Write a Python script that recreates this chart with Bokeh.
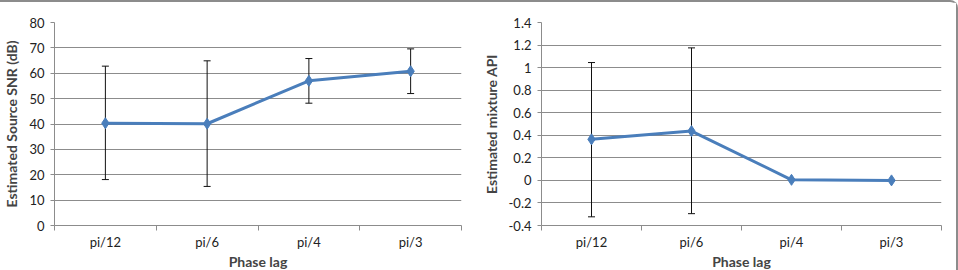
from bokeh.plotting import figure
from bokeh.layouts import row
from bokeh.models import Range1d, FixedTicker, Whisker, ColumnDataSource
from bokeh.embed import file_html
from bokeh.resources import INLINE

# Phase lag categories shared by both panels
phases = ["pi/12", "pi/6", "pi/4", "pi/3"]

# Left panel: estimated source SNR (dB) with error bars
snr_mean = [40.3, 40.1, 57.0, 60.8]
snr_upper = [62.8, 64.9, 65.8, 69.6]
snr_lower = [18.1, 15.4, 48.2, 52.0]
snr_ticks = [0, 10, 20, 30, 40, 50, 60, 70, 80]
snr_tick_labels = ["0", "10", "20", "30", "40", "50", "60", "70", "80"]

# Right panel: estimated mixture API with error bars
api_mean = [0.364, 0.437, 0.005, 0.0]
api_upper = [1.045, 1.175, 0.005, 0.0]
api_lower = [-0.323, -0.295, 0.005, 0.0]
api_ticks = [-0.4, -0.2, 0.0, 0.2, 0.4, 0.6, 0.8, 1.0, 1.2, 1.4]
api_tick_labels = ["-0.4", "-0.2", "0", "0.2", "0.4", "0.6", "0.8", "1", "1.2", "1.4"]

LINE_BLUE = "#4a7ebb"
GRID_GRAY = "#8c8c8c"
FONT = "Lato"


def panel(mean, upper, lower, ticks, tick_labels, y_title, borders, styles):
    x = [i + 0.5 for i in range(len(phases))]
    src = ColumnDataSource(dict(x=x, y=mean, upper=upper, lower=lower))
    left, right, top, bottom = borders
    p = figure(width=479, height=270, output_backend="svg", toolbar_location=None,
               x_range=Range1d(0, len(phases)),
               y_range=Range1d(ticks[0], ticks[-1]),
               min_border_left=left, min_border_right=right,
               min_border_top=top, min_border_bottom=bottom,
               styles=styles)
    p.outline_line_color = None
    p.background_fill_color = "white"
    p.border_fill_color = "white"

    # x axis: labels at category centres, tick marks at category boundaries
    xa = p.xaxis[0]
    xa.ticker = FixedTicker(ticks=x, minor_ticks=list(range(len(phases) + 1)))
    xa.major_label_overrides = {xi: lab for xi, lab in zip(x, phases)}
    xa.major_tick_line_color = None
    xa.major_tick_in = 0
    xa.major_tick_out = 0
    xa.minor_tick_in = 0
    xa.minor_tick_out = 5
    xa.minor_tick_line_color = GRID_GRAY
    xa.axis_line_color = GRID_GRAY
    xa.major_label_standoff = 3
    xa.major_label_text_font = FONT
    xa.major_label_text_font_size = "13px"
    xa.major_label_text_color = "#222222"
    xa.axis_label = "Phase lag"
    xa.axis_label_text_font = FONT
    xa.axis_label_text_font_style = "bold"
    xa.axis_label_text_font_size = "14px"
    xa.axis_label_standoff = 0

    ya = p.yaxis[0]
    ya.ticker = FixedTicker(ticks=ticks)
    ya.major_label_overrides = {t: lab for t, lab in zip(ticks, tick_labels)}
    ya.minor_tick_line_color = None
    ya.major_tick_in = 0
    ya.major_tick_out = 4
    ya.major_tick_line_color = GRID_GRAY
    ya.axis_line_color = GRID_GRAY
    ya.major_label_standoff = 6
    ya.major_label_text_font = FONT
    ya.major_label_text_font_size = "13px"
    ya.major_label_text_color = "#222222"
    ya.axis_label = y_title
    ya.axis_label_text_font = FONT
    ya.axis_label_text_font_style = "bold"
    ya.axis_label_text_font_size = "14px"
    ya.axis_label_standoff = 6

    p.xgrid.grid_line_color = None
    p.ygrid.grid_line_color = GRID_GRAY
    p.ygrid.ticker = FixedTicker(ticks=ticks)

    w = Whisker(source=src, base="x", upper="upper", lower="lower",
                line_color="#111111", line_width=1)
    w.upper_head.size = 7
    w.lower_head.size = 7
    w.upper_head.line_color = "#111111"
    w.lower_head.line_color = "#111111"
    p.add_layout(w)

    p.line("x", "y", source=src, line_color=LINE_BLUE, line_width=3)
    p.scatter("x", "y", source=src, marker="diamond", size=11,
              fill_color=LINE_BLUE, line_color=LINE_BLUE)
    return p


border = "2px solid #8c8c8c"
p1 = panel(snr_mean, snr_upper, snr_lower, snr_ticks, snr_tick_labels,
           "Estimated Source SNR (dB)", (51, 18, 20, 44),
           {"border-top": border})
p2 = panel(api_mean, api_upper, api_lower, api_ticks, api_tick_labels,
           "Estimated mixture API", (58, 17, 20, 44),
           {"border-top": border, "border-right": border,
            "border-top-right-radius": "8px"})

layout = row(p1, p2)
open("out.html", "w").write(file_html(layout, INLINE))
